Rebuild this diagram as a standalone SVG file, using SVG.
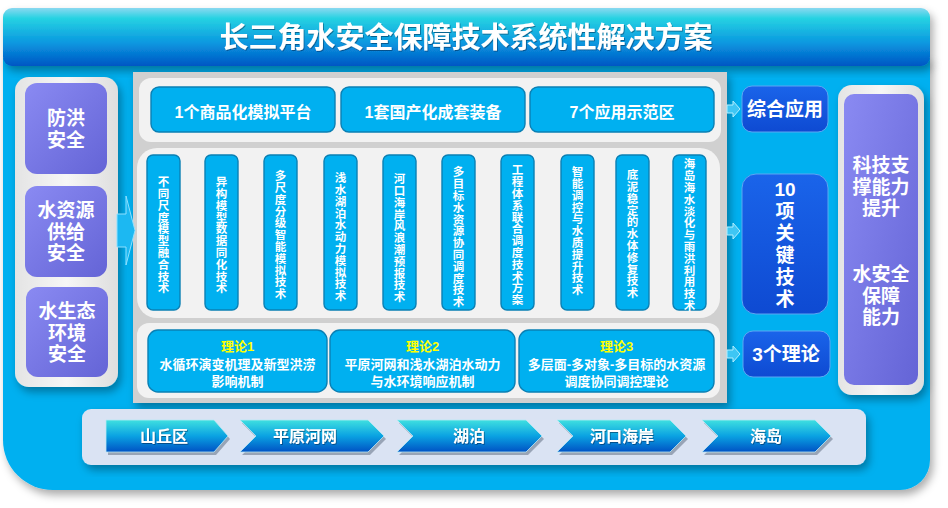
<svg xmlns="http://www.w3.org/2000/svg" width="948" height="508" viewBox="0 0 948 508">
<defs>
  <linearGradient id="gTitle" x1="0" y1="0" x2="0" y2="1">
    <stop offset="0" stop-color="#8ad8f0"/>
    <stop offset="0.18" stop-color="#26d2e2"/>
    <stop offset="0.6" stop-color="#0a98e0"/>
    <stop offset="1" stop-color="#0056c4"/>
  </linearGradient>
  <linearGradient id="gChev" x1="0" y1="0" x2="0" y2="1">
    <stop offset="0" stop-color="#3fe0e0"/>
    <stop offset="0.5" stop-color="#0aa2e2"/>
    <stop offset="1" stop-color="#0052c4"/>
  </linearGradient>
  <linearGradient id="gPurple" x1="0" y1="0" x2="1" y2="1">
    <stop offset="0" stop-color="#8a8af2"/>
    <stop offset="1" stop-color="#6464d6"/>
  </linearGradient>
  <linearGradient id="gPanel" x1="0" y1="0" x2="1" y2="0">
    <stop offset="0" stop-color="#e4e4e4"/>
    <stop offset="0.5" stop-color="#f6f6f6"/>
    <stop offset="1" stop-color="#dedede"/>
  </linearGradient>
  <linearGradient id="gDark" x1="0" y1="0" x2="0" y2="1">
    <stop offset="0" stop-color="#1a64ea"/>
    <stop offset="1" stop-color="#0e4ad2"/>
  </linearGradient>
  <filter id="shadow" x="-10%" y="-10%" width="130%" height="130%">
    <feDropShadow dx="3" dy="5" stdDeviation="4" flood-color="#000" flood-opacity="0.33"/>
  </filter>
  <filter id="tshadow" x="-5%" y="-5%" width="110%" height="120%">
    <feDropShadow dx="0.8" dy="1" stdDeviation="0.5" flood-color="#002850" flood-opacity="0.55"/>
  </filter>
  <style>
    text { font-family: "Liberation Sans", "Noto Sans CJK SC", sans-serif; font-weight: bold; fill: #ffffff; dominant-baseline: central; text-anchor: middle; }
    .title { font-size: 29px; }
    .big { font-size: 19px; }
    .mid { font-size: 16px; }
    .chevt { font-size: 16px; }
    .th { font-size: 13px; }
    .yl { fill: #ffff00; }
    .col { font-family: "Noto Sans CJK SC", sans-serif; font-size: 11.5px; writing-mode: vertical-rl; letter-spacing: 0.3px; }
    .cyanbox { fill: #00b0f0; stroke: #0a80b4; stroke-width: 1.4; }
    .purple { fill: url(#gPurple); }
    .panel { fill: url(#gPanel); }
    .inner { fill: #f2f2f2; }
    .dark { fill: url(#gDark); stroke: #5da6f2; stroke-width: 1; }
    .chev { fill: url(#gChev); stroke: #b8e8f4; stroke-width: 0.8; }
    .chevsh { fill: #98a4b6; }
    .smallarrow { fill: #3ec6f4; stroke: #b0eeff; stroke-width: 1; }
  </style>
</defs>

<!-- main background -->
<g id="background">
  <path d="M3,58 H930 V460 A30,30 0 0 1 900,490 H53 A50,50 0 0 1 3,440 Z" fill="#00b0f0" filter="url(#shadow)"/>
</g>

<g id="title">
  <rect x="3" y="8" width="927" height="58" rx="9" fill="url(#gTitle)" filter="url(#shadow)"/>
  <text class="title" x="466" y="38" filter="url(#tshadow)">长三角水安全保障技术系统性解决方案</text>
</g>

<!-- left column -->
<g id="left-panel">
  <rect x="15" y="77" width="103" height="310" rx="14" class="panel" filter="url(#shadow)"/>
</g>
<g id="node-flood">
  <rect x="25" y="83" width="82" height="91" rx="12" class="purple"/>
  <text class="big"><tspan x="66" y="118">防洪</tspan><tspan x="66" dy="21.5">安全</tspan></text>
</g>
<g id="node-supply">
  <rect x="25" y="186" width="82" height="91" rx="12" class="purple"/>
  <text class="big"><tspan x="66" y="210">水资源</tspan><tspan x="66" dy="21.5">供给</tspan><tspan x="66" dy="21.5">安全</tspan></text>
</g>
<g id="node-eco">
  <rect x="26" y="287" width="82" height="90" rx="12" class="purple"/>
  <text class="big"><tspan x="67" y="311">水生态</tspan><tspan x="67" dy="21.5">环境</tspan><tspan x="67" dy="21.5">安全</tspan></text>
</g>

<!-- center panel -->
<g id="center-panel">
  <rect x="133" y="72" width="594" height="331" fill="#d0d0d0" filter="url(#shadow)"/>
  <rect x="139" y="78" width="582" height="64" rx="12" class="inner"/>
  <rect x="137" y="148" width="583" height="170" rx="20" class="inner"/>
  <rect x="137" y="323" width="583" height="75" rx="12" class="inner"/>
</g>

<g id="node-platform">
  <rect x="151" y="87" width="184" height="45" rx="8" class="cyanbox"/>
  <text class="mid" x="243" y="112">1个商品化模拟平台</text>
</g>
<g id="node-equipment">
  <rect x="341" y="87" width="184" height="45" rx="8" class="cyanbox"/>
  <text class="mid" x="433" y="112">1套国产化成套装备</text>
</g>
<g id="node-demo">
  <rect x="530" y="87" width="184" height="45" rx="8" class="cyanbox"/>
  <text class="mid" x="622" y="112">7个应用示范区</text>
</g>

<g id="node-tech1"><rect x="147" y="155" width="33" height="155" rx="6" class="cyanbox"/><text class="col" x="163.5" y="235">不同尺度模型融合技术</text></g>
<g id="node-tech2"><rect x="205" y="155" width="33" height="155" rx="6" class="cyanbox"/><text class="col" x="221.5" y="235">异构模型数据同化技术</text></g>
<g id="node-tech3"><rect x="264" y="155" width="33" height="155" rx="6" class="cyanbox"/><text class="col" x="280.5" y="235">多尺度分级智能模拟技术</text></g>
<g id="node-tech4"><rect x="324" y="155" width="33" height="155" rx="6" class="cyanbox"/><text class="col" x="340.5" y="237">浅水湖泊水动力模拟技术</text></g>
<g id="node-tech5"><rect x="383" y="155" width="33" height="155" rx="6" class="cyanbox"/><text class="col" x="399.5" y="238">河口海岸风浪潮预报技术</text></g>
<g id="node-tech6"><rect x="442" y="155" width="33" height="155" rx="6" class="cyanbox"/><text class="col" x="458.5" y="237">多目标水资源协同调度技术</text></g>
<g id="node-tech7"><rect x="501" y="155" width="33" height="155" rx="6" class="cyanbox"/><text class="col" x="517.5" y="235">工程体系联合调度技术方案</text></g>
<g id="node-tech8"><rect x="561" y="155" width="33" height="155" rx="6" class="cyanbox"/><text class="col" x="577.5" y="231">智能调控与水质提升技术</text></g>
<g id="node-tech9"><rect x="616" y="155" width="33" height="155" rx="6" class="cyanbox"/><text class="col" x="632.5" y="234">底泥稳定的水体修复技术</text></g>
<g id="node-tech10"><rect x="673" y="155" width="33" height="155" rx="6" class="cyanbox"/><text class="col" x="689.5" y="235">海岛海水淡化与雨洪利用技术</text></g>

<g id="node-theory1">
  <rect x="148" y="330" width="179" height="62" rx="10" class="cyanbox"/>
  <text class="th"><tspan class="yl" x="237.5" y="346">理论1</tspan><tspan x="237.5" dy="18">水循环演变机理及新型洪涝</tspan><tspan x="237.5" dy="17">影响机制</tspan></text>
</g>
<g id="node-theory2">
  <rect x="330" y="330" width="185" height="62" rx="10" class="cyanbox"/>
  <text class="th"><tspan class="yl" x="422.5" y="346">理论2</tspan><tspan x="422.5" dy="18">平原河网和浅水湖泊水动力</tspan><tspan x="422.5" dy="17">与水环境响应机制</tspan></text>
</g>
<g id="node-theory3">
  <rect x="519" y="330" width="195" height="62" rx="10" class="cyanbox"/>
  <text class="th"><tspan class="yl" x="616.5" y="346">理论3</tspan><tspan x="616.5" dy="18">多层面-多对象-多目标的水资源</tspan><tspan x="616.5" dy="17">调度协同调控理论</tspan></text>
</g>

<!-- right summary nodes -->
<g id="node-application">
  <rect x="742" y="86" width="86" height="46" rx="10" class="dark"/>
  <text class="big" x="785" y="109">综合应用</text>
</g>
<g id="node-10tech">
  <rect x="742" y="174" width="86" height="140" rx="14" class="dark"/>
  <text class="big"><tspan x="785" y="189">10</tspan><tspan x="785" dy="22">项</tspan><tspan x="785" dy="22">关</tspan><tspan x="785" dy="22">键</tspan><tspan x="785" dy="22">技</tspan><tspan x="785" dy="22">术</tspan></text>
</g>
<g id="node-3theory">
  <rect x="743" y="331" width="87" height="46" rx="10" class="dark"/>
  <text class="big" x="786" y="354">3个理论</text>
</g>

<g id="node-capacity">
  <rect x="838" y="85" width="86" height="310" rx="14" class="panel" filter="url(#shadow)"/>
  <rect x="844" y="94" width="74" height="291" rx="10" class="purple"/>
  <text class="big"><tspan x="881" y="165">科技支</tspan><tspan x="881" dy="21.5">撑能力</tspan><tspan x="881" dy="21.5">提升</tspan></text>
  <text class="big"><tspan x="881" y="274">水安全</tspan><tspan x="881" dy="21.5">保障</tspan><tspan x="881" dy="21.5">能力</tspan></text>
</g>

<!-- bottom strip -->
<g id="region-strip">
  <rect x="82" y="409" width="784" height="56" rx="9" fill="#dae3f3" filter="url(#shadow)"/>
</g>
<g id="node-hills">
  <polygon class="chevsh" points="108,423 216,423 230,439 216,455 108,455"/>
  <polygon class="chev" points="106,420 214,420 228,436 214,452 106,452"/>
  <text class="chevt" x="164" y="436" filter="url(#tshadow)">山丘区</text>
</g>
<g id="node-plain">
  <polygon class="chevsh" points="242,423 370,423 386,439 370,455 242,455 258,439"/>
  <polygon class="chev" points="240,420 368,420 384,436 368,452 240,452 256,436"/>
  <text class="chevt" x="305" y="436" filter="url(#tshadow)">平原河网</text>
</g>
<g id="node-lake">
  <polygon class="chevsh" points="399,423 528,423 544,439 528,455 399,455 415,439"/>
  <polygon class="chev" points="397,420 526,420 542,436 526,452 397,452 413,436"/>
  <text class="chevt" x="469" y="436" filter="url(#tshadow)">湖泊</text>
</g>
<g id="node-estuary">
  <polygon class="chevsh" points="559,423 672,423 688,439 672,455 559,455 575,439"/>
  <polygon class="chev" points="557,420 670,420 686,436 670,452 557,452 573,436"/>
  <text class="chevt" x="622" y="436" filter="url(#tshadow)">河口海岸</text>
</g>
<g id="node-island">
  <polygon class="chevsh" points="704,423 817,423 833,439 817,455 704,455 720,439"/>
  <polygon class="chev" points="702,420 815,420 831,436 815,452 702,452 718,436"/>
  <text class="chevt" x="766" y="436" filter="url(#tshadow)">海岛</text>
</g>

<!-- connectors -->
<g id="connectors">
  <polygon points="117,214 126,214 126,196 135,230.5 126,265 126,247 117,247" fill="#1cb8f2" stroke="#8fe0ff" stroke-width="1"/>
  <polygon class="smallarrow" points="727,105 733,105 733,101 740,109 733,117 733,113 727,113"/>
  <polygon class="smallarrow" points="727,227 733,227 733,223 740,231 733,239 733,235 727,235"/>
  <polygon class="smallarrow" points="727,350 733,350 733,346 740,354 733,362 733,358 727,358"/>
</g>
</svg>
